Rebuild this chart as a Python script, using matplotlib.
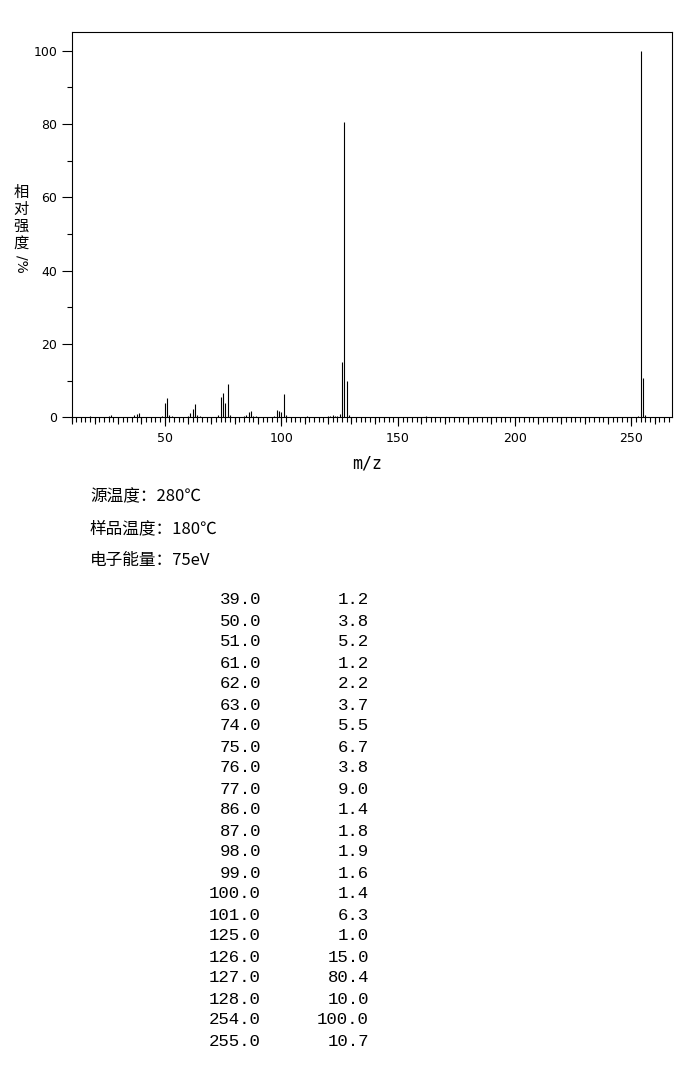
import matplotlib
matplotlib.use("Agg")
import matplotlib.pyplot as plt
from matplotlib.ticker import MultipleLocator

# Data: peaks listed in the table
table_mz = [39, 50, 51, 61, 62, 63, 74, 75, 76, 77, 86, 87, 98, 99, 100, 101,
            125, 126, 127, 128, 254, 255]
table_int = [1.2, 3.8, 5.2, 1.2, 2.2, 3.7, 5.5, 6.7, 3.8, 9.0, 1.4, 1.8, 1.9,
             1.6, 1.4, 6.3, 1.0, 15.0, 80.4, 10.0, 100.0, 10.7]

# small peaks (< 1 %)
minor_mz = [18, 26, 27, 37, 38, 49, 52, 53, 60, 64, 65, 73, 78, 84, 85, 88, 89,
            97, 102, 111, 120, 121, 122, 123, 124, 129, 162, 253, 256]
minor_int = [0.3, 0.3, 0.5, 0.5, 0.8, 0.3, 0.7, 0.3, 0.3, 0.7, 0.4, 0.5, 0.5,
             0.3, 0.6, 0.3, 0.3, 0.3, 0.5, 0.3, 0.3, 0.4, 0.5, 0.3, 0.3, 0.5,
             0.3, 0.3, 0.6]

info_lines = ["源温度：280℃", "样品温度：180℃", "电子能量：75eV"]

W, H = 696, 1077
fig = plt.figure(figsize=(W / 100, H / 100), dpi=100)


def fx(x):
    return x / W


def fy(y):
    return 1 - y / H


ax = fig.add_axes([fx(71.5), fy(417.3), fx(672.3) - fx(71.5), fy(32.3) - fy(417.3)])

ax.vlines(minor_mz + table_mz, 0, minor_int + table_int, color="black", linewidth=0.8)

ax.set_xlim(10, 267.6)
ax.set_ylim(0, 105)

for s in ax.spines.values():
    s.set_linewidth(0.8)

ax.xaxis.set_major_locator(MultipleLocator(50))
ax.xaxis.set_minor_locator(MultipleLocator(2))
ax.yaxis.set_major_locator(MultipleLocator(20))
ax.yaxis.set_minor_locator(MultipleLocator(10))
ax.tick_params(axis="x", which="major", length=6.5, width=0.8, labelsize=9, pad=4)
ax.tick_params(axis="x", which="minor", length=3.6, width=0.8)
ax.tick_params(axis="y", which="major", length=7.2, width=0.8, labelsize=9, pad=3)
ax.tick_params(axis="y", which="minor", length=3.6, width=0.8)

# medium ticks every 10
sec = ax.secondary_xaxis("bottom")
sec.set_xticks(list(range(10, 270, 10)))
sec.tick_params(length=5, width=0.8, labelbottom=False)
sec.spines["bottom"].set_visible(False)

fig.text(fx(367), fy(463), "m/z", family="DejaVu Sans Mono", fontsize=12,
         ha="center", va="center")

# vertical y label
cjk = ["Noto Sans CJK SC", "DejaVu Sans"]
for i, ch in enumerate("相对强度"):
    fig.text(fx(21), fy(192 + 17 * i), ch, family=cjk, fontsize=11,
             ha="center", va="center")
fig.text(fx(21), fy(264), "/%", family="DejaVu Sans", fontsize=10,
         rotation=-90, ha="center", va="center")

for i, line in enumerate(info_lines):
    fig.text(fx(90), fy(497 + 31.5 * i), line, family=cjk, fontsize=12,
             ha="left", va="center")

for i, (m, v) in enumerate(zip(table_mz, table_int)):
    y = fy(600 + 21 * i)
    fig.text(fx(261), y, f"{m:.1f}", family="Liberation Mono", fontsize=12.5,
             ha="right", va="center")
    fig.text(fx(369), y, f"{v:.1f}", family="Liberation Mono", fontsize=12.5,
             ha="right", va="center")

fig.savefig("out.png", dpi=100)
